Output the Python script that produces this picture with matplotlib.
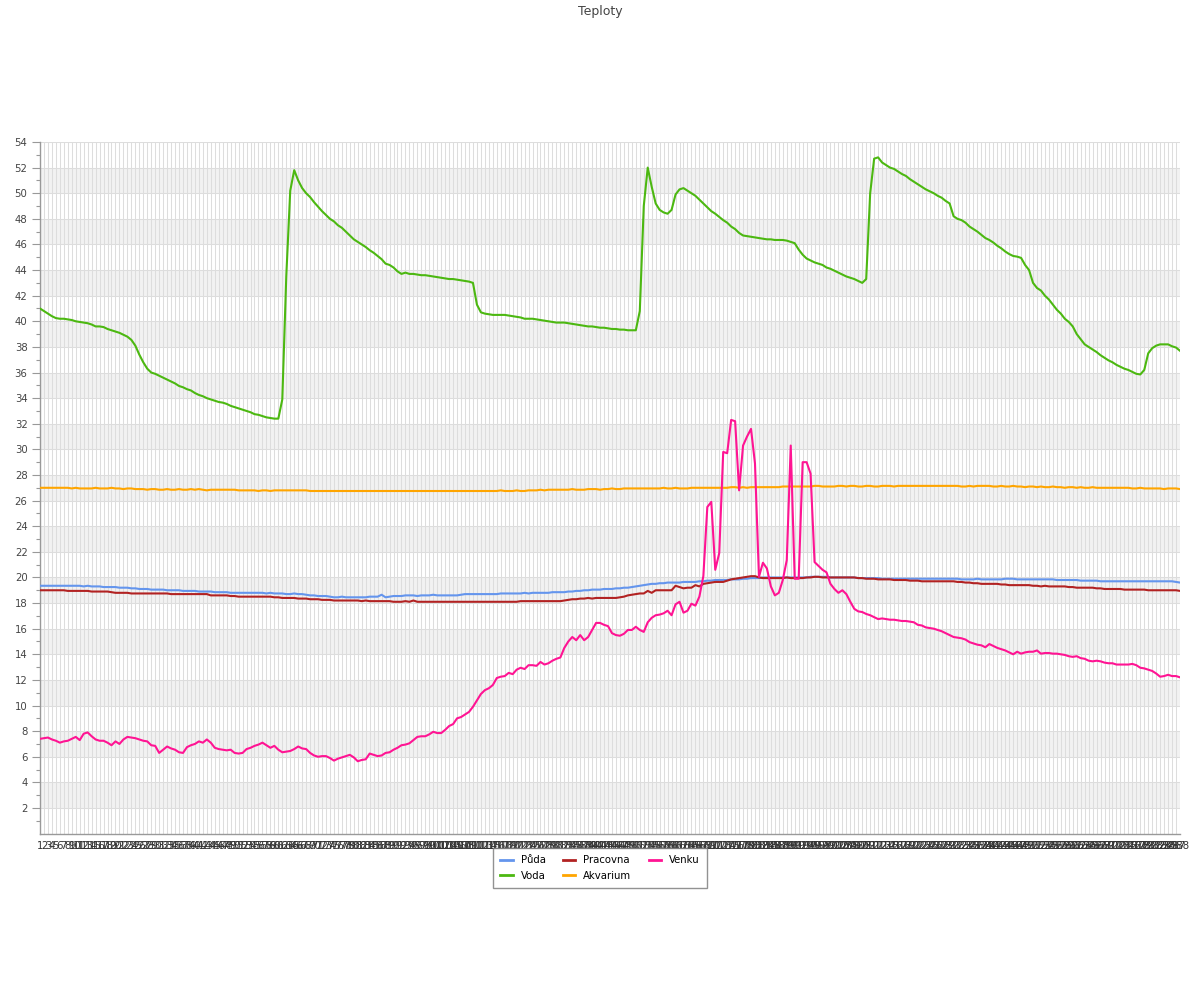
import matplotlib
matplotlib.use('Agg')
import matplotlib.pyplot as plt
import numpy as np

categories = [str(i) for i in range(1, 289)]

puda = [
    19.35,19.35,19.35,19.35,19.35,19.35,19.35,19.35,19.35,19.35,19.35,19.3,
    19.35,19.3,19.3,19.3,19.25,19.25,19.25,19.25,19.2,19.2,19.2,19.15,
    19.15,19.1,19.1,19.1,19.05,19.05,19.05,19.05,19.0,19.0,19.0,19.0,
    18.95,18.95,18.95,18.95,18.9,18.9,18.9,18.9,18.85,18.85,18.85,18.85,
    18.8,18.8,18.8,18.8,18.8,18.8,18.8,18.8,18.8,18.75,18.8,18.75,
    18.75,18.75,18.7,18.7,18.75,18.7,18.7,18.65,18.6,18.6,18.55,18.55,
    18.55,18.5,18.45,18.45,18.5,18.45,18.45,18.45,18.45,18.45,18.45,18.5,
    18.5,18.5,18.65,18.45,18.5,18.55,18.55,18.55,18.6,18.6,18.6,18.55,
    18.6,18.6,18.6,18.65,18.6,18.6,18.6,18.6,18.6,18.6,18.65,18.7,
    18.7,18.7,18.7,18.7,18.7,18.7,18.7,18.7,18.75,18.75,18.75,18.75,
    18.75,18.75,18.8,18.75,18.8,18.8,18.8,18.8,18.8,18.85,18.85,18.85,
    18.85,18.9,18.9,18.95,18.95,19.0,19.0,19.05,19.05,19.05,19.1,19.1,
    19.1,19.15,19.15,19.2,19.2,19.25,19.3,19.35,19.4,19.45,19.5,19.5,
    19.55,19.55,19.6,19.6,19.6,19.6,19.65,19.65,19.65,19.65,19.7,19.7,
    19.75,19.75,19.8,19.8,19.8,19.8,19.85,19.85,19.85,19.9,19.9,19.95,
    19.95,19.95,20.0,20.0,20.0,20.0,20.0,20.0,20.0,20.0,20.0,20.0,
    20.0,20.0,20.05,20.05,20.05,20.05,20.05,20.0,20.0,20.0,20.0,20.0,
    20.0,20.0,19.95,19.95,19.95,19.95,19.95,19.95,19.9,19.9,19.9,19.9,
    19.9,19.9,19.9,19.9,19.9,19.9,19.9,19.9,19.9,19.9,19.9,19.9,
    19.9,19.9,19.9,19.9,19.85,19.85,19.85,19.85,19.9,19.85,19.85,19.85,
    19.85,19.85,19.85,19.9,19.9,19.9,19.85,19.85,19.85,19.85,19.85,19.85,
    19.85,19.85,19.85,19.85,19.8,19.8,19.8,19.8,19.8,19.8,19.75,19.75,
    19.75,19.75,19.75,19.7,19.7,19.7,19.7,19.7,19.7,19.7,19.7,19.7,
    19.7,19.7,19.7,19.7,19.7,19.7,19.7,19.7,19.7,19.7,19.65,19.6,
]

voda = [
    41.0,40.8,40.6,40.4,40.25,40.2,40.2,40.15,40.1,40.0,39.95,39.9,
    39.85,39.75,39.6,39.6,39.55,39.4,39.3,39.2,39.1,38.95,38.8,38.55,
    38.1,37.4,36.8,36.3,36.0,35.9,35.75,35.6,35.45,35.3,35.15,34.95,
    34.85,34.7,34.6,34.4,34.25,34.15,34.0,33.9,33.8,33.7,33.65,33.55,
    33.4,33.3,33.2,33.1,33.0,32.9,32.75,32.7,32.6,32.5,32.45,32.4,
    32.4,33.9,43.5,50.2,51.8,51.0,50.4,50.0,49.7,49.3,48.95,48.6,
    48.3,48.0,47.8,47.5,47.3,47.0,46.7,46.4,46.2,46.0,45.8,45.55,
    45.35,45.1,44.85,44.5,44.4,44.2,43.9,43.7,43.8,43.7,43.7,43.65,
    43.6,43.6,43.55,43.5,43.45,43.4,43.35,43.3,43.3,43.25,43.2,43.15,
    43.1,43.0,41.3,40.7,40.6,40.55,40.5,40.5,40.5,40.5,40.45,40.4,
    40.35,40.3,40.2,40.2,40.2,40.15,40.1,40.05,40.0,39.95,39.9,39.9,
    39.9,39.85,39.8,39.75,39.7,39.65,39.6,39.6,39.55,39.5,39.5,39.45,
    39.4,39.4,39.35,39.35,39.3,39.3,39.3,40.8,49.0,52.0,50.5,49.2,
    48.7,48.5,48.4,48.7,49.9,50.3,50.4,50.2,50.0,49.8,49.5,49.2,
    48.9,48.6,48.4,48.15,47.9,47.7,47.4,47.2,46.9,46.7,46.65,46.6,
    46.55,46.5,46.45,46.4,46.4,46.35,46.35,46.35,46.3,46.2,46.1,45.6,
    45.2,44.9,44.75,44.6,44.5,44.4,44.2,44.1,43.95,43.8,43.65,43.5,
    43.4,43.3,43.15,43.0,43.3,50.0,52.7,52.8,52.4,52.2,52.0,51.9,
    51.7,51.5,51.35,51.1,50.9,50.7,50.5,50.3,50.15,50.0,49.8,49.65,
    49.4,49.2,48.2,48.0,47.9,47.7,47.4,47.2,47.0,46.75,46.5,46.35,
    46.15,45.9,45.7,45.45,45.25,45.1,45.05,44.95,44.4,44.0,43.0,42.6,
    42.4,42.0,41.7,41.3,40.9,40.6,40.2,39.95,39.6,39.0,38.6,38.2,
    38.0,37.8,37.6,37.35,37.15,36.95,36.8,36.6,36.45,36.3,36.2,36.05,
    35.9,35.85,36.2,37.5,37.9,38.1,38.2,38.2,38.2,38.05,37.95,37.7,
]

pracovna = [
    19.0,19.0,19.0,19.0,19.0,19.0,19.0,18.95,18.95,18.95,18.95,18.95,
    18.95,18.9,18.9,18.9,18.9,18.9,18.85,18.8,18.8,18.8,18.8,18.75,
    18.75,18.75,18.75,18.75,18.75,18.75,18.75,18.75,18.75,18.7,18.7,18.7,
    18.7,18.7,18.7,18.7,18.7,18.7,18.7,18.6,18.6,18.6,18.6,18.6,
    18.55,18.55,18.5,18.5,18.5,18.5,18.5,18.5,18.5,18.5,18.5,18.45,
    18.45,18.4,18.4,18.4,18.4,18.35,18.35,18.35,18.3,18.3,18.3,18.25,
    18.25,18.25,18.2,18.2,18.2,18.2,18.2,18.2,18.2,18.15,18.2,18.15,
    18.15,18.15,18.15,18.15,18.15,18.1,18.1,18.1,18.15,18.1,18.2,18.1,
    18.1,18.1,18.1,18.1,18.1,18.1,18.1,18.1,18.1,18.1,18.1,18.1,
    18.1,18.1,18.1,18.1,18.1,18.1,18.1,18.1,18.1,18.1,18.1,18.1,
    18.1,18.15,18.15,18.15,18.15,18.15,18.15,18.15,18.15,18.15,18.15,18.15,
    18.2,18.25,18.3,18.3,18.35,18.35,18.4,18.35,18.4,18.4,18.4,18.4,
    18.4,18.4,18.45,18.5,18.6,18.65,18.7,18.75,18.75,18.95,18.8,19.0,
    19.0,19.0,19.0,19.0,19.35,19.25,19.15,19.2,19.2,19.4,19.3,19.5,
    19.55,19.6,19.65,19.65,19.65,19.75,19.85,19.9,19.95,20.0,20.05,20.1,
    20.1,20.0,19.95,19.95,19.95,19.95,19.95,19.95,20.0,19.95,19.95,19.95,
    19.95,20.0,20.0,20.05,20.05,20.0,20.0,20.0,20.0,20.0,20.0,20.0,
    20.0,20.0,19.95,19.95,19.9,19.9,19.9,19.85,19.85,19.85,19.85,19.8,
    19.8,19.8,19.8,19.75,19.75,19.75,19.7,19.7,19.7,19.7,19.7,19.7,
    19.7,19.7,19.7,19.65,19.65,19.6,19.6,19.55,19.55,19.5,19.5,19.5,
    19.5,19.5,19.45,19.45,19.4,19.4,19.4,19.4,19.4,19.4,19.35,19.35,
    19.3,19.35,19.3,19.3,19.3,19.3,19.3,19.25,19.25,19.2,19.2,19.2,
    19.2,19.2,19.15,19.15,19.1,19.1,19.1,19.1,19.1,19.05,19.05,19.05,
    19.05,19.05,19.05,19.0,19.0,19.0,19.0,19.0,19.0,19.0,19.0,18.95,
]

akvarium = [
    27.0,27.0,27.0,27.0,27.0,27.0,27.0,27.0,26.95,27.0,26.95,26.95,
    26.95,26.95,27.0,26.95,26.95,26.95,27.0,26.95,26.95,26.9,26.95,26.95,
    26.9,26.9,26.9,26.85,26.9,26.9,26.85,26.85,26.9,26.85,26.85,26.9,
    26.85,26.85,26.9,26.85,26.9,26.85,26.8,26.85,26.85,26.85,26.85,26.85,
    26.85,26.85,26.8,26.8,26.8,26.8,26.8,26.75,26.8,26.8,26.75,26.8,
    26.8,26.8,26.8,26.8,26.8,26.8,26.8,26.8,26.75,26.75,26.75,26.75,
    26.75,26.75,26.75,26.75,26.75,26.75,26.75,26.75,26.75,26.75,26.75,26.75,
    26.75,26.75,26.75,26.75,26.75,26.75,26.75,26.75,26.75,26.75,26.75,26.75,
    26.75,26.75,26.75,26.75,26.75,26.75,26.75,26.75,26.75,26.75,26.75,26.75,
    26.75,26.75,26.75,26.75,26.75,26.75,26.75,26.75,26.8,26.75,26.75,26.75,
    26.8,26.75,26.75,26.8,26.8,26.8,26.85,26.8,26.85,26.85,26.85,26.85,
    26.85,26.85,26.9,26.85,26.85,26.85,26.9,26.9,26.9,26.85,26.9,26.9,
    26.95,26.9,26.9,26.95,26.95,26.95,26.95,26.95,26.95,26.95,26.95,26.95,
    26.95,27.0,26.95,26.95,27.0,26.95,26.95,26.95,27.0,27.0,27.0,27.0,
    27.0,27.0,27.0,27.0,27.0,27.0,27.05,27.05,27.0,27.05,27.0,27.05,
    27.05,27.05,27.05,27.05,27.05,27.05,27.05,27.1,27.1,27.1,27.1,27.1,
    27.1,27.1,27.1,27.15,27.15,27.1,27.1,27.1,27.1,27.15,27.15,27.1,
    27.15,27.15,27.1,27.1,27.15,27.15,27.1,27.1,27.15,27.15,27.15,27.1,
    27.15,27.15,27.15,27.15,27.15,27.15,27.15,27.15,27.15,27.15,27.15,27.15,
    27.15,27.15,27.15,27.15,27.1,27.1,27.15,27.1,27.15,27.15,27.15,27.15,
    27.1,27.1,27.15,27.1,27.1,27.15,27.1,27.1,27.05,27.1,27.1,27.05,
    27.1,27.05,27.05,27.1,27.05,27.05,27.0,27.05,27.05,27.0,27.05,27.0,
    27.0,27.05,27.0,27.0,27.0,27.0,27.0,27.0,27.0,27.0,27.0,26.95,
    26.95,27.0,26.95,26.95,26.95,26.95,26.95,26.9,26.95,26.95,26.95,26.9,
]

venku = [
    7.4,7.45,7.5,7.35,7.25,7.1,7.2,7.25,7.4,7.55,7.3,7.8,
    7.9,7.6,7.35,7.25,7.25,7.1,6.9,7.2,7.0,7.35,7.55,7.5,
    7.45,7.35,7.25,7.2,6.9,6.85,6.3,6.55,6.8,6.65,6.55,6.35,
    6.3,6.75,6.9,7.0,7.2,7.1,7.35,7.1,6.7,6.6,6.55,6.5,
    6.55,6.3,6.25,6.3,6.6,6.7,6.85,6.95,7.1,6.9,6.7,6.85,
    6.55,6.35,6.4,6.45,6.6,6.8,6.65,6.6,6.3,6.1,6.0,6.05,
    6.05,5.9,5.7,5.85,5.95,6.05,6.15,5.95,5.65,5.75,5.8,6.25,
    6.15,6.05,6.1,6.3,6.35,6.55,6.7,6.9,6.95,7.05,7.3,7.55,
    7.6,7.6,7.75,7.95,7.85,7.85,8.1,8.4,8.55,9.0,9.1,9.3,
    9.5,9.9,10.4,10.9,11.2,11.35,11.6,12.15,12.25,12.3,12.55,12.45,
    12.8,12.95,12.85,13.15,13.15,13.1,13.4,13.2,13.3,13.5,13.65,13.75,
    14.5,15.0,15.35,15.1,15.5,15.1,15.35,15.9,16.45,16.45,16.3,16.2,
    15.65,15.5,15.45,15.6,15.9,15.9,16.15,15.9,15.75,16.5,16.85,17.05,
    17.1,17.2,17.4,17.05,17.9,18.1,17.25,17.4,17.95,17.8,18.5,20.1,
    25.5,25.9,20.6,21.9,29.8,29.7,32.3,32.2,26.8,30.3,31.0,31.6,
    28.9,20.05,21.15,20.7,19.3,18.6,18.8,19.8,21.35,30.3,19.9,19.9,
    29.0,29.0,28.1,21.2,20.9,20.6,20.4,19.5,19.1,18.8,19.0,18.7,
    18.1,17.55,17.35,17.3,17.15,17.05,16.9,16.75,16.8,16.75,16.7,16.7,
    16.65,16.6,16.6,16.55,16.5,16.3,16.25,16.1,16.05,16.0,15.9,15.8,
    15.65,15.5,15.35,15.3,15.25,15.15,14.95,14.85,14.75,14.7,14.55,14.8,
    14.65,14.5,14.4,14.3,14.15,14.0,14.2,14.05,14.15,14.2,14.2,14.3,
    14.05,14.1,14.1,14.05,14.05,14.0,13.95,13.85,13.8,13.85,13.7,13.65,
    13.5,13.45,13.5,13.45,13.35,13.3,13.3,13.2,13.2,13.2,13.2,13.25,
    13.15,12.95,12.9,12.8,12.7,12.5,12.25,12.3,12.4,12.3,12.3,12.2,
]

series_names = ['Půda', 'Voda', 'Pracovna', 'Akvarium', 'Venku']
series_values = [puda, voda, pracovna, akvarium, venku]
series_colors = ['#6495ED', '#4CB811', '#B22222', '#FFA500', '#FF1493']

y_ticks = list(range(2, 55, 2))
y_minor = list(range(1, 54, 2))

plt.rcParams['font.family'] = ['DejaVu Sans']

fig = plt.figure(figsize=(12, 10), dpi=100)
fig.patch.set_facecolor('white')
ax = fig.add_axes([40 / 1200, 1 - 833.6 / 1000, 1140 / 1200, (833.6 - 142) / 1000])

x = np.arange(1, len(categories) + 1)

# alternating bands
for lo in range(2, 54, 4):
    ax.axhspan(lo, lo + 2, color='#f2f2f2', zorder=0, lw=0)

for name, vals, col in zip(series_names, series_values, series_colors):
    ax.plot(x[:len(vals)], vals, color=col, lw=1.5, label=name, zorder=3)

ax.set_xlim(1, len(categories))
ax.set_ylim(0, 54)

ax.set_xticks(x)
ax.set_xticklabels(categories, fontsize=7.3, color='#333333')
ax.set_yticks(y_ticks)
ax.set_yticklabels([str(t) for t in y_ticks], fontsize=7.3, color='#444444')
ax.set_yticks(y_minor, minor=True)

ax.tick_params(axis='x', length=0, pad=5)
ax.tick_params(axis='y', which='major', length=6, width=0.8, color='#999999', pad=3)
ax.tick_params(axis='y', which='minor', length=3, width=0.8, color='#999999')

ax.set_axisbelow(True)
ax.grid(axis='x', which='major', color='#dddddd', lw=0.75)
ax.grid(axis='y', which='major', color='#dddddd', lw=0.75)

for side in ['top', 'right']:
    ax.spines[side].set_visible(False)
for side in ['left', 'bottom']:
    ax.spines[side].set_color('#999999')
    ax.spines[side].set_linewidth(1.0)

fig.text(0.5, 1 - 11 / 1000, 'Teploty', ha='center', va='center', fontsize=9, color='#444444')

leg = fig.legend(loc='upper center', bbox_to_anchor=(0.5, 1 - 848 / 1000), ncol=3,
                 fontsize=7.3, frameon=True, fancybox=False, handlelength=1.2,
                 handletextpad=0.8, columnspacing=1.7, borderpad=0.7,
                 labelspacing=0.55, borderaxespad=0)
leg.get_frame().set_edgecolor('#777777')
leg.get_frame().set_linewidth(1.0)
for h in leg.get_lines():
    h.set_linewidth(2)

fig.savefig('out.png', dpi=100, facecolor='white')
